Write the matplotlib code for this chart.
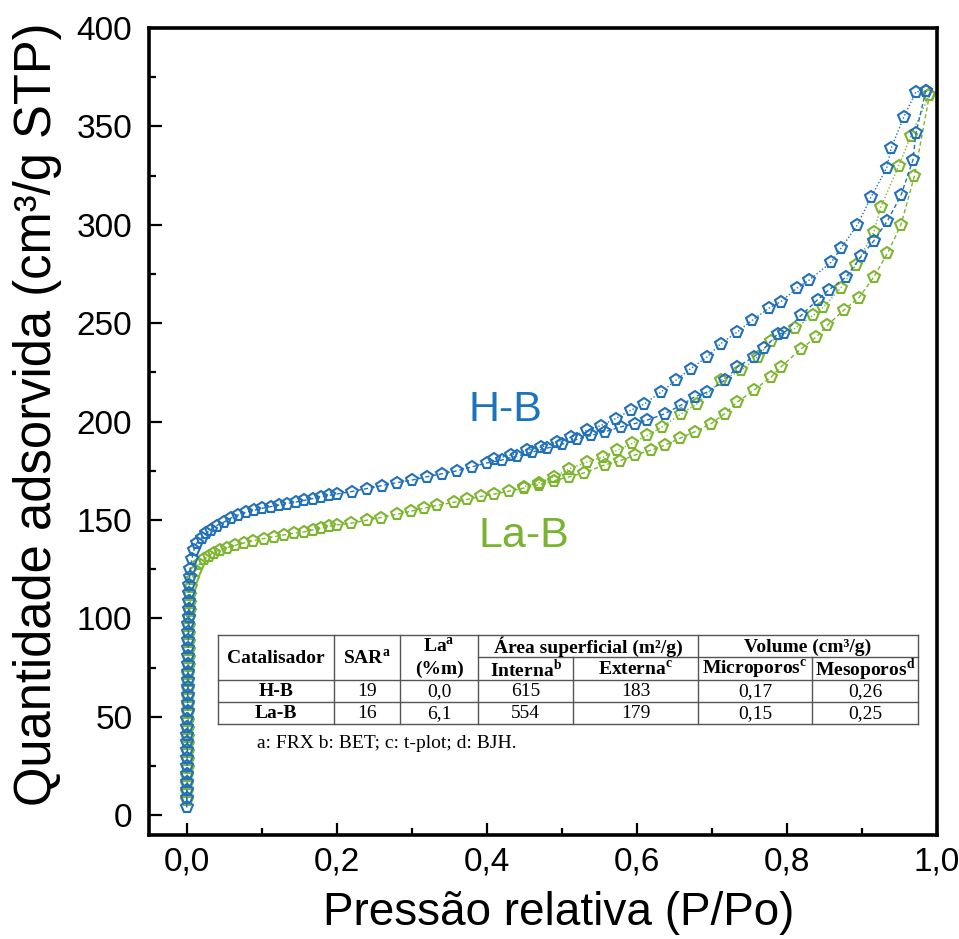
import matplotlib
matplotlib.use("Agg")
import matplotlib.pyplot as plt
from matplotlib.ticker import FixedLocator
from matplotlib.patches import Rectangle

plt.rcParams['font.family'] = ['Liberation Sans', 'DejaVu Sans']
plt.rcParams['mathtext.fontset'] = 'custom'
plt.rcParams['mathtext.rm'] = 'Liberation Serif'
plt.rcParams['mathtext.bf'] = 'Liberation Serif:bold'

# ---------------- data ----------------
hb_ads_x = [0.0002, 0.0003, 0.0004, 0.0005, 0.0006, 0.0007, 0.0008, 0.0009, 0.0010, 0.0011,
            0.0012, 0.0013, 0.0014, 0.0015, 0.0016, 0.0017, 0.0018, 0.0019, 0.0020, 0.0021,
            0.0022, 0.0023, 0.0024, 0.0025, 0.0027, 0.0029, 0.0031, 0.0034, 0.0037, 0.0041,
            0.005, 0.007, 0.010, 0.014, 0.020, 0.026, 0.032, 0.040, 0.050, 0.059, 0.068,
            0.079, 0.090, 0.101, 0.112, 0.123, 0.134, 0.146, 0.157, 0.168, 0.179, 0.190,
            0.200, 0.220, 0.240, 0.260, 0.280, 0.300, 0.320, 0.340, 0.360, 0.380, 0.400,
            0.420, 0.440, 0.460, 0.480, 0.500, 0.520, 0.539, 0.557, 0.579, 0.597, 0.614,
            0.637, 0.659, 0.677, 0.694, 0.717, 0.734, 0.756, 0.770, 0.788, 0.796, 0.819,
            0.841, 0.856, 0.879, 0.899, 0.916, 0.934, 0.952, 0.968, 0.972, 0.985]
hb_ads_y = [4, 9, 13, 17, 21, 25, 29, 33, 37, 41,
            45, 49, 53, 57, 61, 65, 69, 73, 77, 81,
            85, 89, 93, 97, 101, 105, 109, 113, 117, 121,
            125, 130, 135, 138.5, 141, 143.2, 145, 147.2, 149, 151, 152.5,
            154, 155, 156, 156.8, 157.6, 158.4, 159.2, 160, 160.9, 161.8, 162.5,
            163.2, 164.5, 166, 167.5, 169, 170.3, 172, 173.5, 175, 177, 179,
            180.5, 182.5, 184.5, 186.5, 188.5, 191, 193, 194.8, 197.4, 199, 200.8,
            204, 208.4, 212.6, 215, 221, 227.8, 233, 237.3, 244.7, 245, 254,
            262, 267, 273.5, 284, 292, 302, 315, 333, 346.6, 368]

hb_des_x = [0.985, 0.972, 0.956, 0.939, 0.933, 0.912, 0.894, 0.872, 0.859, 0.830, 0.814,
            0.792, 0.776, 0.754, 0.734, 0.712, 0.694, 0.672, 0.652, 0.632, 0.610, 0.592,
            0.572, 0.552, 0.534, 0.512, 0.494, 0.472, 0.454, 0.432, 0.410]
hb_des_y = [368, 367.6, 355, 339, 329, 314, 300, 288, 281, 272, 268,
            261, 257.6, 251.6, 245.6, 239.7, 233, 227, 221, 215, 209, 205.8,
            201.6, 198, 195.7, 192, 189.7, 187, 185.5, 183, 181]

lab_ads_x = [0.0010, 0.0011, 0.0012, 0.0013, 0.0014, 0.0015, 0.0016, 0.0017, 0.0018, 0.0019,
             0.0020, 0.0021, 0.0022, 0.0023, 0.0024, 0.0025, 0.0026, 0.0027, 0.0028, 0.0030,
             0.0032, 0.0034, 0.0036, 0.0039, 0.0042, 0.0046, 0.0050, 0.0056,
             0.008, 0.012, 0.017, 0.023, 0.030, 0.036, 0.045, 0.054, 0.065, 0.076, 0.089,
             0.103, 0.116, 0.130, 0.143, 0.157, 0.168, 0.179, 0.190, 0.200, 0.219, 0.241,
             0.259, 0.281, 0.299, 0.316, 0.334, 0.356, 0.374, 0.392, 0.410, 0.430, 0.450,
             0.470, 0.490, 0.510, 0.530, 0.557, 0.577, 0.597, 0.619, 0.637, 0.657, 0.677,
             0.699, 0.717, 0.734, 0.756, 0.779, 0.792, 0.819, 0.839, 0.854, 0.876, 0.896,
             0.916, 0.934, 0.952, 0.970, 0.990]
lab_ads_y = [8, 12, 16, 20, 24, 28, 32, 36, 40, 44,
             48, 52, 56, 60, 64, 68, 72, 76, 80, 84,
             88, 92, 96, 100, 104, 108, 112, 116,
             120, 124, 127.5, 130, 132, 133.5, 135, 136, 137.2, 138.3, 139.5,
             140.6, 141.5, 142.5, 143.3, 144, 145, 145.8, 146.8, 147.5, 148.4, 150,
             151.3, 153, 154.5, 156, 157.5, 159, 160.5, 162, 163.2, 164.7, 166.3,
             168, 170, 172, 174, 178, 180, 183, 185.5, 188, 191.5, 194.8,
             199, 204, 210, 216, 222.7, 227.8, 237, 243, 249, 256.7, 263,
             273.6, 285.6, 300, 325, 366]

lab_des_x = [0.990, 0.965, 0.949, 0.925, 0.916, 0.892, 0.872, 0.848, 0.835, 0.811, 0.779,
             0.761, 0.739, 0.712, 0.680, 0.659, 0.634, 0.614, 0.594, 0.574, 0.555, 0.534,
             0.510, 0.490, 0.470, 0.450]
lab_des_y = [366, 345, 330, 309, 296.5, 279.5, 268, 258, 254, 247.5, 241,
             233, 226, 221, 209, 204, 197.4, 193, 189, 185.5, 182, 179.5,
             176, 172, 169, 167]

series_names = ['H-B', 'La-B']
x_ticks = [0.0, 0.2, 0.4, 0.6, 0.8, 1.0]
x_ticklabels = ['0,0', '0,2', '0,4', '0,6', '0,8', '1,0']
y_ticks = [0, 50, 100, 150, 200, 250, 300, 350, 400]

# table contents
table_catalysts = ['H-B', 'La-B']
table_sar = ['19', '16']
table_la = ['0,0', '6,1']
table_interna = ['615', '554']
table_externa = ['183', '179']
table_micro = ['0,17', '0,15']
table_meso = ['0,26', '0,25']
table_note = 'a: FRX b: BET; c: t-plot; d: BJH.'

# ---------------- figure ----------------
W, H = 959, 939
fig = plt.figure(figsize=(W / 100, H / 100), dpi=100)
ax = fig.add_axes([149 / W, 1 - 835 / H, (937 - 149) / W, (835 - 28) / H])
ax.set_xlim(-0.05, 1.0)
ax.set_ylim(-10, 400)

blue = '#2270b8'
green = '#7db52f'

mk = dict(marker='p', markersize=8.5, markerfacecolor='none', markeredgewidth=1.5, linewidth=1.0)
ax.plot(lab_ads_x, lab_ads_y, color=green, linestyle=(0, (3, 2)), **mk)
ax.plot(lab_des_x, lab_des_y, color=green, linestyle=(0, (1, 1.5)), **mk)
ax.plot(hb_ads_x, hb_ads_y, color=blue, linestyle=(0, (3, 2)), **mk)
ax.plot(hb_des_x, hb_des_y, color=blue, linestyle=(0, (1, 1.5)), **mk)

ax.text(0.425, 206, series_names[0], color='#1b74bb', fontsize=31, ha='center', va='center')
ax.text(0.45, 142, series_names[1], color='#7ab231', fontsize=31, ha='center', va='center')

ax.xaxis.set_major_locator(FixedLocator(x_ticks))
ax.set_xticklabels(x_ticklabels)
ax.xaxis.set_minor_locator(FixedLocator([0.1, 0.3, 0.5, 0.7, 0.9]))
ax.yaxis.set_major_locator(FixedLocator(y_ticks))
ax.yaxis.set_minor_locator(FixedLocator([25, 75, 125, 175, 225, 275, 325, 375]))
ax.tick_params(which='both', direction='in', top=False, right=False, width=1.6)
ax.tick_params(which='major', length=9, labelsize=24)
ax.tick_params(which='minor', length=5)
ax.tick_params(axis='y', pad=12)
ax.tick_params(axis='x', pad=8)
for s in ax.spines.values():
    s.set_linewidth(2.6)

def P(px, py):
    return px / W, 1 - py / H

fig.text(*P(38, 414), 'Quantidade adsorvida (cm³/g STP)', rotation=90,
         fontsize=36.5, ha='center', va='center')
fig.text(*P(559, 913), 'Pressão relativa (P/Po)', fontsize=33, ha='center', va='center')

# ---------------- table ----------------
cols = [218, 334, 400, 478, 573, 698, 812, 918]
rows = [635, 657, 680, 702, 724]
lc = '#555555'
tlw = 1.0
fig.patches.append(Rectangle(P(cols[0], rows[-1]), (cols[-1] - cols[0]) / W, (rows[-1] - rows[0]) / H,
                             transform=fig.transFigure, facecolor='white', edgecolor='none', zorder=3))

def hline(y, x0, x1):
    fig.add_artist(plt.Line2D([x0 / W, x1 / W], [1 - y / H, 1 - y / H], color=lc, lw=tlw, zorder=4))

def vline(x, y0, y1):
    fig.add_artist(plt.Line2D([x / W, x / W], [1 - y0 / H, 1 - y1 / H], color=lc, lw=tlw, zorder=4))

for y in [rows[0], rows[2], rows[3], rows[4]]:
    hline(y, cols[0], cols[-1])
hline(rows[1], cols[3], cols[-1])
for x in [cols[0], cols[1], cols[2], cols[3], cols[5], cols[7]]:
    vline(x, rows[0], rows[4])
for x in [cols[4], cols[6]]:
    vline(x, rows[1], rows[4])

tf = dict(family='Liberation Serif', fontsize=14, ha='center', va='center', zorder=5)
def cx(i):
    return (cols[i] + cols[i + 1]) / 2
def cy(j):
    return (rows[j] + rows[j + 1]) / 2 + 1

fig.text(*P(cx(0), (rows[0] + rows[2]) / 2 + 1), 'Catalisador', fontweight='bold', **tf)
fig.text(*P(cx(1), (rows[0] + rows[2]) / 2 + 1), r'SAR$^{\mathbf{a}}$', fontweight='bold', **tf)
fig.text(*P(cx(2), cy(0)), r'La$^{\mathbf{a}}$', fontweight='bold', **tf)
fig.text(*P(cx(2), cy(1)), '(%m)', fontweight='bold', **tf)
fig.text(*P((cols[3] + cols[5]) / 2, cy(0)), 'Área superficial (m²/g)', fontweight='bold', **tf)
fig.text(*P((cols[5] + cols[7]) / 2, cy(0)), 'Volume (cm³/g)', fontweight='bold', **tf)
fig.text(*P(cx(3), cy(1)), r'Interna$^{\mathbf{b}}$', fontweight='bold', **tf)
fig.text(*P(cx(4), cy(1)), r'Externa$^{\mathbf{c}}$', fontweight='bold', **tf)
fig.text(*P(cx(5), cy(1)), r'Microporos$^{\mathbf{c}}$', fontweight='bold', **tf)
fig.text(*P(cx(6), cy(1)), r'Mesoporos$^{\mathbf{d}}$', fontweight='bold', **tf)

for r in range(2):
    yy = cy(2 + r)
    fig.text(*P(cx(0), yy), table_catalysts[r], fontweight='bold', **tf)
    vals = [table_sar[r], table_la[r], table_interna[r], table_externa[r], table_micro[r], table_meso[r]]
    for i, v in enumerate(vals):
        fig.text(*P(cx(i + 1), yy), v, **tf)

fig.text(*P(257, 744), table_note, family='Liberation Serif', fontsize=14, ha='left', va='center')

fig.savefig('out.png', dpi=100, facecolor='white')
